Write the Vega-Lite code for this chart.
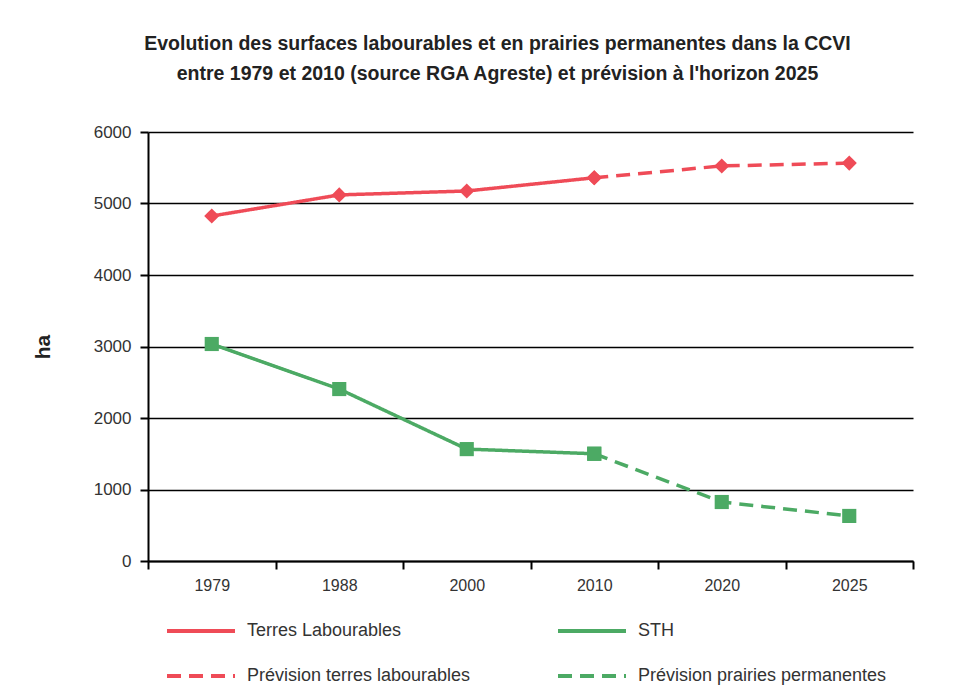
{
  "$schema": "https://vega.github.io/schema/vega-lite/v6.json",
  "width": 765,
  "height": 429,
  "autosize": {"type": "none"},
  "padding": {"left": 148, "top": 132, "right": 63, "bottom": 126},
  "background": "white",
  "title": {
    "text": ["Evolution des surfaces labourables et en prairies permanentes dans la CCVI", "entre 1979 et 2010 (source RGA Agreste) et prévision à l'horizon  2025"],
    "font": "Liberation Sans",
    "fontSize": 19.5,
    "fontWeight": "bold",
    "color": "#222222",
    "lineHeight": 30,
    "offset": 39,
    "dx": -33,
    "anchor": "middle"
  },
  "data": {
    "values": [
      {"annee": "1979", "ha": 4825, "serie": "Terres Labourables", "groupe": "TL"},
      {"annee": "1988", "ha": 5120, "serie": "Terres Labourables", "groupe": "TL"},
      {"annee": "2000", "ha": 5175, "serie": "Terres Labourables", "groupe": "TL"},
      {"annee": "2010", "ha": 5360, "serie": "Terres Labourables", "groupe": "TL"},
      {"annee": "2010", "ha": 5360, "serie": "Prévision terres labourables", "groupe": "TL"},
      {"annee": "2020", "ha": 5525, "serie": "Prévision terres labourables", "groupe": "TL"},
      {"annee": "2025", "ha": 5565, "serie": "Prévision terres labourables", "groupe": "TL"},
      {"annee": "1979", "ha": 3035, "serie": "STH", "groupe": "PP"},
      {"annee": "1988", "ha": 2405, "serie": "STH", "groupe": "PP"},
      {"annee": "2000", "ha": 1565, "serie": "STH", "groupe": "PP"},
      {"annee": "2010", "ha": 1500, "serie": "STH", "groupe": "PP"},
      {"annee": "2010", "ha": 1500, "serie": "Prévision prairies permanentes", "groupe": "PP"},
      {"annee": "2020", "ha": 825, "serie": "Prévision prairies permanentes", "groupe": "PP"},
      {"annee": "2025", "ha": 630, "serie": "Prévision prairies permanentes", "groupe": "PP"}
    ]
  },
  "encoding": {
    "x": {
      "field": "annee",
      "type": "ordinal",
      "bandPosition": 0.5,
      "scale": {"type": "band", "paddingInner": 0, "paddingOuter": 0},
      "axis": {
        "title": null,
        "labelAngle": 0,
        "labelFont": "Liberation Sans",
        "labelFontSize": 16,
        "labelColor": "#333333",
        "labelPadding": 8,
        "domainColor": "#000000",
        "domainWidth": 2,
        "tickColor": "#000000",
        "tickWidth": 2,
        "tickSize": 8,
        "tickBand": "extent",
        "grid": false
      }
    },
    "y": {
      "field": "ha",
      "type": "quantitative",
      "scale": {"domain": [0, 6000]},
      "axis": {
        "title": "ha",
        "titleFont": "Liberation Sans",
        "titleFontSize": 21,
        "titleFontWeight": "bold",
        "titleColor": "#222222",
        "titlePadding": 40,
        "values": [0, 1000, 2000, 3000, 4000, 5000, 6000],
        "format": "d",
        "labelFont": "Liberation Sans",
        "labelFontSize": 17,
        "labelColor": "#333333",
        "labelPadding": 9,
        "domainColor": "#000000",
        "domainWidth": 2,
        "tickColor": "#000000",
        "tickWidth": 2,
        "tickSize": 8,
        "grid": true,
        "gridColor": "#000000",
        "gridWidth": 1.6
      }
    }
  },
  "layer": [
    {
      "mark": {"type": "line", "strokeWidth": 3.5},
      "encoding": {
        "color": {
          "field": "serie",
          "type": "nominal",
          "scale": {
            "domain": ["Terres Labourables", "STH", "Prévision terres labourables", "Prévision prairies permanentes"],
            "range": ["#ef4b57", "#4caa64", "#ef4b57", "#4caa64"]
          },
          "legend": {
            "title": null,
            "orient": "none",
            "legendX": 17,
            "legendY": 463,
            "direction": "horizontal",
            "columns": 2,
            "symbolType": "stroke",
            "symbolSize": 4624,
            "symbolStrokeWidth": 4,
            "labelFont": "Liberation Sans",
            "labelFontSize": 18,
            "labelColor": "#333333",
            "labelOffset": 10,
            "labelLimit": 400,
            "columnPadding": 79,
            "rowPadding": -30
          }
        },
        "strokeDash": {
          "field": "serie",
          "type": "nominal",
          "scale": {
            "domain": ["Terres Labourables", "STH", "Prévision terres labourables", "Prévision prairies permanentes"],
            "range": [[1, 0], [1, 0], [14, 8], [14, 8]]
          }
        }
      }
    },
    {
      "mark": {"type": "point", "filled": true, "opacity": 1},
      "encoding": {
        "color": {"field": "serie", "type": "nominal"},
        "shape": {
          "field": "groupe",
          "type": "nominal",
          "scale": {"domain": ["TL", "PP"], "range": ["diamond", "square"]},
          "legend": null
        },
        "size": {
          "field": "groupe",
          "type": "nominal",
          "scale": {"domain": ["TL", "PP"], "range": [230, 200]},
          "legend": null
        }
      }
    }
  ],
  "config": {
    "view": {"stroke": null}
  }
}
